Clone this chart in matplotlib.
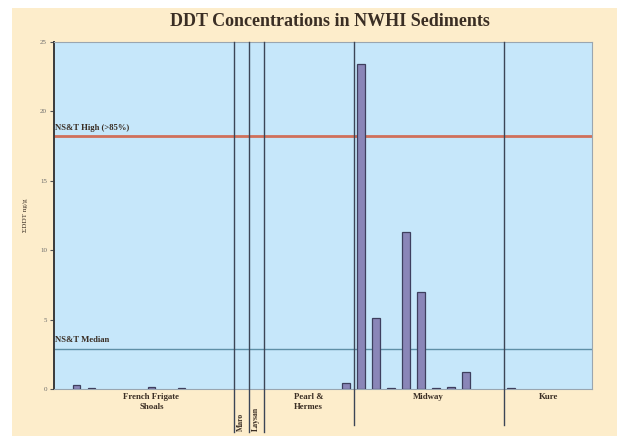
"""
DDT concentrations in NWHI sediments, bar chart by sampling station.
"""
import matplotlib
matplotlib.use("Agg")
import matplotlib.pyplot as plt
from matplotlib.patches import Rectangle
import numpy as np

# ── Data ──────────────────────────────────────────────────────────────────────
# one slot per sampling station, grouped by island / atoll (0 = not detected)
regions = ["French Frigate\nShoals", "Maro", "Laysan", "Pearl &\nHermes", "Midway", "Kure"]
ffs_vals = [0.3, 0.05, 0, 0, 0, 0.15, 0, 0.1, 0, 0, 0]
maro_vals = [0]
laysan_vals = [0]
pearl_vals = [0, 0, 0, 0, 0, 0.45]
midway_vals = [23.4, 5.1, 0.05, 11.3, 7.0, 0.05, 0.15, 1.2, 0, 0]
kure_vals = [0.05, 0, 0, 0, 0, 0]

nst_high = 18.2
nst_median = 2.9
y_ticks = [0, 5, 10, 15, 20, 25]

# ── Style ─────────────────────────────────────────────────────────────────────
PAGE = "#FDEDCB"
PLOT_BG = "#C6E7FA"
BAR = "#8A86B8"
BAR_EDGE = "#3E3F5E"
DIVIDER = "#3C4556"
RED = "#D0705A"
MEDIAN = "#5E8FA6"
TEXT = "#3A2E24"
SERIF = ["Liberation Serif", "DejaVu Serif"]

groups = [ffs_vals, maro_vals, laysan_vals, pearl_vals, midway_vals, kure_vals]
values = np.concatenate([np.asarray(g, dtype=float) for g in groups])
positions = np.arange(len(values))
sizes = np.array([len(g) for g in groups])
starts = np.concatenate([[0], np.cumsum(sizes)[:-1]])
ends = starts + sizes

fig = plt.figure(figsize=(6.17, 4.36), dpi=100)
fig.patch.set_facecolor("white")
fig.patches.append(Rectangle((12 / 617, 0), 1, (436 - 8) / 436,
                             transform=fig.transFigure, facecolor=PAGE,
                             edgecolor="none", zorder=-10))

ax = fig.add_axes([54 / 617, 47 / 436, 538 / 617, 347 / 436])
ax.set_facecolor(PLOT_BG)

mask = values > 0
ax.bar(positions[mask], values[mask], width=0.5, color=BAR,
       edgecolor=BAR_EDGE, linewidth=0.9, zorder=3)

ax.set_xlim(-1.5, len(values) - 0.6)
ax.set_ylim(0, 25)
ax.set_yticks(y_ticks)
ax.set_yticklabels([str(t) for t in y_ticks], fontsize=5, color="#6A6A6A",
                   family=SERIF)
ax.tick_params(axis="y", direction="out", length=3, width=0.8, color="#555555",
               pad=2)
ax.set_xticks([])
for side in ["top", "right"]:
    ax.spines[side].set_color("#9AA6B0")
    ax.spines[side].set_linewidth(0.8)
ax.spines["bottom"].set_color("#9AA6B0")
ax.spines["left"].set_color("#3A3A3A")
ax.spines["left"].set_linewidth(1.4)

# reference levels
ax.axhline(nst_high, color=RED, lw=2.0, zorder=2)
ax.axhline(nst_median, color=MEDIAN, lw=1.0, zorder=2)
ax.text(-1.4, nst_high + 0.3, "NS&T High (>85%)", fontsize=6.2, fontweight="bold",
        color=TEXT, family=SERIF, va="bottom", ha="left")
ax.text(-1.4, nst_median + 0.35, "NS&T Median", fontsize=6.2, fontweight="bold",
        color=TEXT, family=SERIF, va="bottom", ha="left")

# region dividers
for i, e in enumerate(ends[:-1]):
    narrow = sizes[i] == 1 or (i + 1 < len(sizes) and sizes[i + 1] == 1)
    ax.axvline(e - 0.5, ymin=-0.125 if narrow else -0.105, ymax=1, color=DIVIDER,
               lw=1.0, clip_on=False, zorder=4)

# region labels
for name, s, e in zip(regions, starts, ends):
    mid = (s + e - 1) / 2
    if e - s == 1:
        ax.text(mid, -0.122, name, rotation=90, fontsize=5.6, fontweight="bold",
                color=TEXT, family=SERIF, ha="center", va="bottom",
                transform=ax.get_xaxis_transform())
    else:
        ax.text(mid, -0.012, name, fontsize=6.3, fontweight="bold", color=TEXT,
                family=SERIF, ha="center", va="top", linespacing=1.3,
                transform=ax.get_xaxis_transform())

ax.set_ylabel("ΣDDT ng/g", fontsize=5.2, color=TEXT, family=SERIF, labelpad=9)

fig.text(330 / 617, 1 - 22 / 436, "DDT Concentrations in NWHI Sediments",
         fontsize=13, fontweight="bold", color=TEXT, family=SERIF,
         ha="center", va="center")

fig.savefig("out.png", dpi=100, facecolor=fig.get_facecolor())
